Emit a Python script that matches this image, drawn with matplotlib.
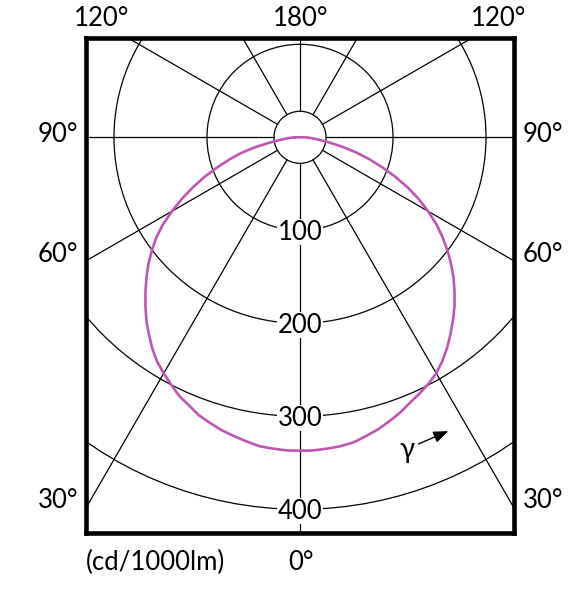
import numpy as np
import matplotlib.pyplot as plt
from matplotlib.patches import Circle

plt.rcParams["font.family"] = ["Lato", "DejaVu Sans"]

# 光度分布 (cd/1000lm), γ角 0..90度
GAMMA = [0, 2.5, 5, 7.5, 10, 12.5, 15, 17.5, 20, 22.5, 25, 27.5, 30, 32.5, 35, 37.5,
         40, 42.5, 45, 47.5, 50, 52.5, 55, 57.5, 60, 62.5, 65, 67.5, 70, 72.5, 75,
         77.5, 80, 82.5, 85, 87.5, 90]
I_LEFT = [337, 337, 336, 335, 332, 329, 326, 322, 318, 312, 307, 300, 293, 286, 277, 267,
          257, 246, 235, 224, 213, 201, 189, 175, 159, 143, 127, 111, 95, 80, 66,
          50, 33, 22, 14, 9, 6]
I_RIGHT = [338, 337, 336, 335, 333, 329, 325, 320, 315, 309, 304, 299, 293, 285, 276, 266,
           256, 246, 235, 224, 212, 200, 187, 174, 159, 144, 128, 111, 94, 78, 62,
           46, 32, 21, 14, 9, 6]

RINGS = [100, 200, 300, 400]
RING_LABELS = ["100", "200", "300", "400"]
HUB = 28
RAY_ANGLES = list(range(0, 360, 30))

W, H = 585, 600
S = 0.93          # px per cd
CX, CY = 300, 137.3
FS = 18.5

fig = plt.figure(figsize=(W / 100, H / 100), dpi=100)
x0, x1, y0, y1 = 85.7, 513.8, 38.3, 533.3
ax = fig.add_axes([x0 / W, 1 - y1 / H, (x1 - x0) / W, (y1 - y0) / H])
ax.set_xlim((x0 - CX) / S, (x1 - CX) / S)
ax.set_ylim((CY - y1) / S, (CY - y0) / S)
ax.set_xticks([])
ax.set_yticks([])
for sp in ax.spines.values():
    sp.set_linewidth(3.3)
    sp.set_color("black")

# 同心円と放射線
for r in [HUB] + RINGS:
    ax.add_patch(Circle((0, 0), r, fill=False, lw=0.9, color="black", zorder=1))
for a in RAY_ANGLES:
    t = np.radians(a)
    ax.plot([HUB * np.sin(t), 700 * np.sin(t)], [-HUB * np.cos(t), -700 * np.cos(t)],
            color="black", lw=0.9, zorder=1)

for r, lab in zip(RINGS, RING_LABELS):
    ax.text(0, -r - 10.0, lab, ha="center", va="baseline", fontsize=FS, zorder=3,
            bbox=dict(facecolor="white", edgecolor="none", pad=0.3))

# 配光曲線
g = np.radians(GAMMA)
il = np.array(I_LEFT)
ir = np.array(I_RIGHT)
xs = np.concatenate([-(il * np.sin(g))[::-1], (ir * np.sin(g))[1:]])
ys = np.concatenate([-(il * np.cos(g))[::-1], -(ir * np.cos(g))[1:]])
xs = np.append(xs, xs[0])
ys = np.append(ys, ys[0])
ax.plot(xs, ys, color="#C055B3", lw=1.9, zorder=4, solid_joinstyle="round")

# γ矢印
ax.text((407 - CX) / S, (CY - 458) / S, "γ", ha="center", va="baseline", fontsize=20, zorder=3)
ax.annotate("", xy=((451 - CX) / S, (CY - 430) / S), xytext=((416 - CX) / S, (CY - 445) / S),
            arrowprops=dict(arrowstyle="-|>,head_length=0.9,head_width=0.35", color="black", lw=1.0))


def ftext(px, py, s, ha):
    fig.text(px / W, 1 - py / H, s, ha=ha, va="baseline", fontsize=FS)


ftext(101.7, 25.7, "120°", "center")
ftext(301, 25.7, "180°", "center")
ftext(498.3, 25.7, "120°", "center")
for yb, s in [(142.3, "90°"), (261.7, "60°"), (508, "30°")]:
    ftext(78.3, yb, s, "right")
    ftext(522.7, yb, s, "left")
ftext(86, 570, "(cd/1000lm)", "left")
ftext(301, 570, "0°", "center")

fig.savefig("out.png", dpi=100)
